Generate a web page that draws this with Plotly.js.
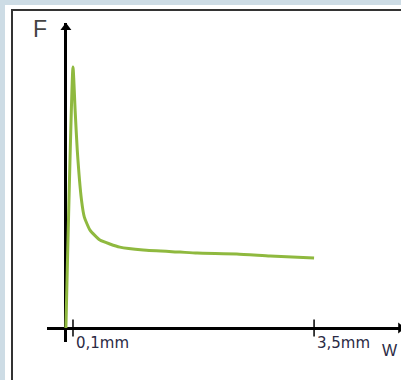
<!DOCTYPE html>
<html>
<head>
<meta charset="utf-8">
<script src="https://cdn.plot.ly/plotly-3.0.1.min.js"></script>
<style>
  html, body { margin: 0; padding: 0; }
  #wrap { position: relative; width: 401px; height: 380px; background: #cddce5; overflow: hidden; }
  #panel { position: absolute; left: 5px; top: 5px; width: 396px; height: 375px; background: #ffffff; }
  #frame { position: absolute; left: 11px; top: 9px; width: 390px; height: 371px; border-left: 2px solid #333; border-top: 2px solid #333; box-sizing: border-box; }
  #chart { position: absolute; left: 0; top: 0; width: 401px; height: 380px; }
</style>
</head>
<body>
<div id="wrap">
  <div id="panel"></div>
  <div id="frame"></div>
  <div id="chart"></div>
</div>
<script>
// Data (W in mm, F in arbitrary units, peak = 100)
const xmm   = [0, 0.1, 0.13, 0.16, 0.22, 0.26, 0.34, 0.48, 0.62, 0.76, 1.09, 1.61, 1.85, 2.41, 2.88, 3.5];
const force = [0, 100, 83.5, 68.2, 49.0, 42.5, 37.5, 33.7, 32.2, 31.0, 29.9, 29.1, 28.7, 28.4, 27.6, 26.8];
const tickVals = [0.1, 3.5];
const tickText = ['0,1mm', '3,5mm'];
const yAxisLabel = 'F';
const xAxisLabel = 'W';

const labelFont = {family: 'DejaVu Sans, Verdana, sans-serif', size: 15, color: '#2a2a44'};

const traces = [
  {
    x: xmm, y: force, mode: 'lines', type: 'scatter',
    line: {color: '#8fb93f', width: 3, shape: 'spline', smoothing: 0.5},
    hoverinfo: 'skip'
  },
  {
    x: tickVals, y: tickVals.map(() => 0), mode: 'markers', type: 'scatter',
    marker: {symbol: 'line-ns-open', size: 12, color: '#000', line: {color: '#000', width: 1.5}},
    hoverinfo: 'skip', cliponaxis: false
  },
  {
    // y-axis arrowhead
    x: [0], y: [115.1], mode: 'markers', type: 'scatter',
    marker: {symbol: 'triangle-up', size: 9.5, color: '#000', line: {width: 0}},
    hoverinfo: 'skip', cliponaxis: false
  },
  {
    // x-axis arrowhead (cut by the edge)
    x: [4.72], y: [0], mode: 'markers', type: 'scatter',
    marker: {symbol: 'triangle-right', size: 9.5, color: '#000', line: {width: 0}},
    hoverinfo: 'skip', cliponaxis: false
  }
];

const annotations = tickVals.map((v, i) => ({
  x: v, y: 0, xref: 'x', yref: 'y', text: tickText[i], showarrow: false,
  xanchor: 'left', yanchor: 'middle', xshift: 1, yshift: -15, font: labelFont
}));
annotations.push({
  x: -0.0198, y: 0.982, xref: 'paper', yref: 'paper', text: yAxisLabel, showarrow: false,
  xanchor: 'center', yanchor: 'middle',
  font: {family: 'Liberation Sans, Arial, sans-serif', size: 23, color: '#444'}
});
annotations.push({
  x: 0.997, y: -0.0255, xref: 'paper', yref: 'paper', text: xAxisLabel, showarrow: false,
  xanchor: 'right', yanchor: 'middle',
  font: {family: 'Liberation Sans, Arial, sans-serif', size: 16, color: '#2a2a44'}
});

const layout = {
  width: 401, height: 380,
  margin: {l: 47, r: 0, t: 23, b: 38, pad: 0},
  paper_bgcolor: 'rgba(0,0,0,0)', plot_bgcolor: 'rgba(0,0,0,0)',
  showlegend: false,
  xaxis: {
    range: [-0.2666, 4.726], showgrid: false, showticklabels: false, ticks: '',
    zeroline: true, zerolinecolor: '#000', zerolinewidth: 3, showline: false, fixedrange: true
  },
  yaxis: {
    range: [-5.36, 116.86], showgrid: false, showticklabels: false, ticks: '',
    zeroline: true, zerolinecolor: '#000', zerolinewidth: 3, showline: false, fixedrange: true
  },
  annotations: annotations
};

Plotly.newPlot('chart', traces, layout, {displayModeBar: false, staticPlot: true});
</script>
</body>
</html>
